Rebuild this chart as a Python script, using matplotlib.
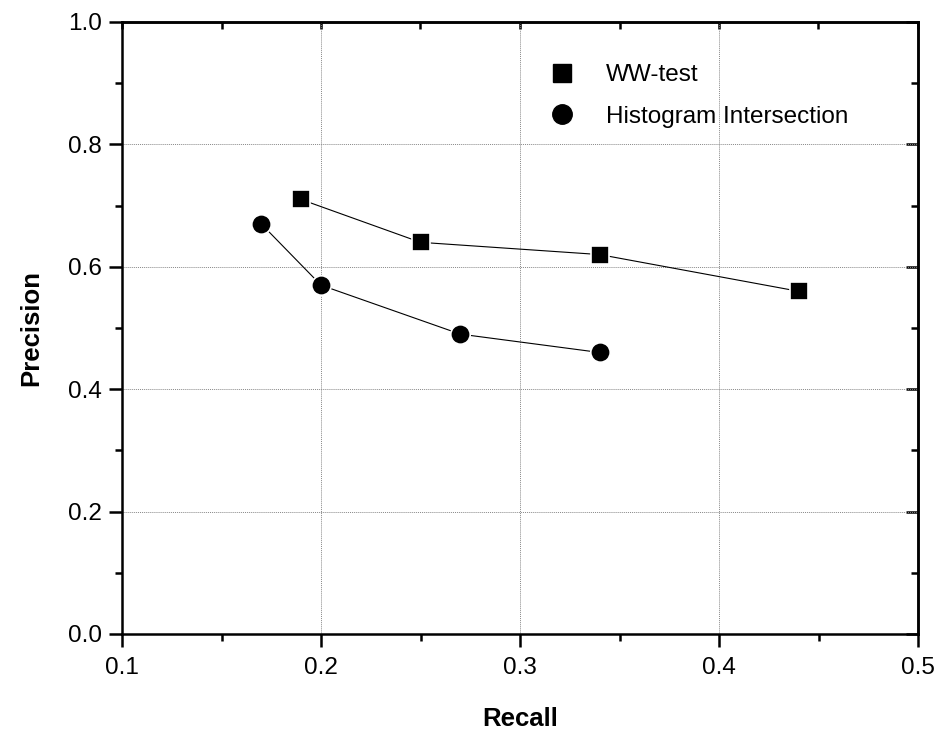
import matplotlib
matplotlib.use("Agg")
import matplotlib.pyplot as plt
from matplotlib.lines import Line2D
from matplotlib.ticker import MultipleLocator

plt.rcParams["font.family"] = ["Liberation Sans", "DejaVu Sans"]

# Data
ww_recall = [0.19, 0.25, 0.34, 0.44]
ww_precision = [0.71, 0.64, 0.62, 0.56]
hist_recall = [0.17, 0.20, 0.27, 0.34]
hist_precision = [0.67, 0.57, 0.49, 0.46]
series_labels = ["WW-test", "Histogram Intersection"]

fig = plt.figure(figsize=(9.52, 7.29), dpi=100)
ax = fig.add_axes([122 / 952, 1 - 634 / 729, (918 - 122) / 952, (634 - 22) / 729])

# connecting lines, markers on top
ax.plot(ww_recall, ww_precision, color="black", lw=0.8, zorder=2)
ax.plot(hist_recall, hist_precision, color="black", lw=0.8, zorder=2)
ax.plot(ww_recall, ww_precision, ls="none", marker="s", ms=13,
        mfc="black", mec="white", mew=1.2, zorder=3)
ax.plot(hist_recall, hist_precision, ls="none", marker="o", ms=14,
        mfc="black", mec="white", mew=1.2, zorder=3)

ax.set_xlim(0.1, 0.5)
ax.set_ylim(0.0, 1.0)
ax.xaxis.set_major_locator(MultipleLocator(0.1))
ax.xaxis.set_minor_locator(MultipleLocator(0.05))
ax.yaxis.set_major_locator(MultipleLocator(0.2))
ax.yaxis.set_minor_locator(MultipleLocator(0.1))
ax.set_xticklabels([f"{v:.1f}" for v in ax.get_xticks()])
ax.set_yticklabels([f"{v:.1f}" for v in ax.get_yticks()])

ax.grid(which="major", color="#888888", ls=(0, (1, 1)), lw=0.7)
ax.set_axisbelow(True)

for s in ax.spines.values():
    s.set_linewidth(1.8)

# outward ticks on left/bottom, inward on top/right
ax.tick_params(which="both", direction="out", width=1.8, labelsize=17.5,
               top=False, right=False)
ax.tick_params(which="major", length=9.5, pad=5)
ax.tick_params(axis="x", which="major", pad=7)
ax.tick_params(which="minor", length=5)

ax_top = ax.secondary_xaxis("top")
ax_top.xaxis.set_major_locator(MultipleLocator(0.1))
ax_top.xaxis.set_minor_locator(MultipleLocator(0.05))
ax_top.tick_params(which="both", direction="in", width=1.8, labeltop=False)
ax_top.tick_params(which="major", length=5)
ax_top.tick_params(which="minor", length=5)
ax_top.spines["top"].set_linewidth(1.8)

ax_right = ax.secondary_yaxis("right")
ax_right.yaxis.set_major_locator(MultipleLocator(0.2))
ax_right.yaxis.set_minor_locator(MultipleLocator(0.1))
ax_right.tick_params(which="both", direction="in", width=1.8, labelright=False)
ax_right.tick_params(which="major", length=9)
ax_right.tick_params(which="minor", length=5)
ax_right.spines["right"].set_linewidth(1.8)

ax.set_xlabel("Recall", fontsize=18.5, fontweight="bold", labelpad=20)
ax.set_ylabel("Precision", fontsize=18.5, fontweight="bold", labelpad=18)

handles = [
    Line2D([], [], ls="none", marker="s", ms=13, mfc="black", mec="black"),
    Line2D([], [], ls="none", marker="o", ms=14, mfc="black", mec="black"),
]
ax.legend(handles, series_labels, loc="upper left", bbox_to_anchor=(0.525, 0.947),
          frameon=False, fontsize=17.5, handlelength=1.0, handletextpad=1.3,
          labelspacing=0.8, borderaxespad=0)

fig.savefig("out.png", dpi=100)
